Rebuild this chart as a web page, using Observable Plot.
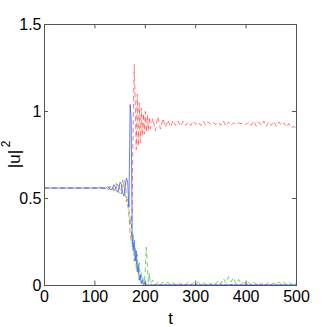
<!DOCTYPE html>
<html><head><meta charset="utf-8">
<script src="https://cdn.jsdelivr.net/npm/d3@7"></script>
<script src="https://cdn.jsdelivr.net/npm/@observablehq/plot@0.6"></script>
<style>html,body{margin:0;padding:0;background:#fff;}</style>
</head><body><div id="chart"></div>
<script>
const tValues = [
  0,10,20,30,40,50,60,70,80,90,100,110,120,
  122.5,125,127.5,130,132.5,135,137.5,140,142.5,145,147.5,150,152.5,155,157.5,160,162.5,165,167.5,
  170,172,174,176,178,180,182,184,186,188,190,192,194,196,198,200,202,204,206,208,210,
  215,220,225,230,235,240,245,250,255,260,
  265,270,275,280,285,290,295,300,305,310,
  315,320,325,330,335,340,345,350,355,360,
  365,370,375,380,385,390,395,400,405,410,
  415,420,425,430,435,440,445,450,455,460,
  465,470,475,480,485,490,495,500
];
const redValues = [
  0.56,0.56,0.56,0.56,0.56,0.56,0.56,0.56,0.56,0.56,0.561,0.559,0.562,
  0.565,0.555,0.552,0.56,0.573,0.568,0.548,0.541,0.56,0.588,0.578,0.539,0.527,0.56,0.607,0.59,0.52,0.47,0.4,
  0.3,0.26,0.45,0.95,1.27,1.05,0.78,1.1,0.8,1.05,0.82,1.02,0.86,0.99,0.87,1.0,0.88,0.98,0.89,0.97,0.9,
  0.96,0.89,0.97,0.9,0.96,0.91,0.95,0.91,0.95,0.92,
  0.945,0.915,0.945,0.92,0.94,0.92,0.945,0.925,0.94,0.92,
  0.945,0.92,0.94,0.925,0.935,0.925,0.94,0.92,0.945,0.915,
  0.94,0.92,0.935,0.925,0.935,0.93,0.935,0.925,0.94,0.92,
  0.945,0.915,0.94,0.92,0.945,0.915,0.94,0.92,0.945,0.915,
  0.94,0.92,0.935,0.91,0.93,0.905,0.915,0.9
];
const greenValues = [
  0.56,0.56,0.56,0.56,0.56,0.56,0.56,0.56,0.56,0.56,0.56,0.561,0.558,
  0.555,0.552,0.56,0.571,0.567,0.55,0.545,0.56,0.587,0.577,0.54,0.527,0.56,0.607,0.59,0.52,0.48,0.5,0.45,
  0.35,0.4,0.22,0.3,0.14,0.22,0.1,0.18,0.06,0.13,0.03,0.08,0.02,0.05,0.01,0.1,0.22,0.12,0.02,0.07,0.01,
  0.03,0.005,0.02,0.004,0.018,0.006,0.02,0.005,0.015,0.004,
  0.018,0.006,0.015,0.005,0.02,0.004,0.016,0.006,0.02,0.005,
  0.015,0.004,0.018,0.006,0.02,0.01,0.03,0.01,0.04,0.015,
  0.05,0.02,0.045,0.01,0.035,0.008,0.02,0.005,0.018,0.004,
  0.02,0.006,0.015,0.005,0.018,0.004,0.02,0.006,0.015,0.005,
  0.02,0.004,0.018,0.006,0.02,0.005,0.015,0.01
];
const blueValues = [
  0.56,0.56,0.56,0.56,0.56,0.56,0.56,0.56,0.56,0.56,0.56,0.562,0.558,
  0.56,0.568,0.565,0.553,0.549,0.56,0.579,0.572,0.545,0.536,0.56,0.593,0.58,0.533,0.515,0.56,0.617,0.595,0.45,
  1.04,0.95,0.28,0.2,0.26,0.14,0.2,0.08,0.12,0.03,0.06,0.01,0.03,0.005,0.015,0.004,0.01,0.003,0.008,0.003,0.006,
  0.003,0.006,0.003,0.006,0.003,0.006,0.003,0.006,0.003,0.006,
  0.003,0.006,0.003,0.006,0.003,0.006,0.003,0.006,0.003,0.006,
  0.003,0.006,0.003,0.006,0.003,0.006,0.003,0.006,0.003,0.006,
  0.003,0.006,0.003,0.006,0.003,0.006,0.003,0.006,0.003,0.006,
  0.003,0.006,0.003,0.006,0.003,0.006,0.003,0.006,0.003,0.006,
  0.003,0.006,0.003,0.006,0.003,0.006,0.003,0.005
];
const xTicks = [0,100,200,300,400,500];
const yTicks = [0,0.5,1,1.5];
const xLabel = "t";
const yLabelBase = "|u|";
const yLabelSup = "2";

const rows = tValues.map((t,i)=>({t, red: redValues[i], green: greenValues[i], blue: blueValues[i]}));
const font = "'Liberation Sans Narrow','Liberation Sans',Arial,sans-serif";
const axisColor = "#555";

const chart = Plot.plot({
  width: 327, height: 327,
  marginLeft: 44, marginRight: 31, marginTop: 24, marginBottom: 42,
  style: {fontFamily: font, fontSize: "16px", color: "#000", background: "#fff"},
  x: {domain: [0,500]},
  y: {domain: [0,1.5]},
  marks: [
    Plot.lineY(rows, {x: "t", y: "red", stroke: "#ff4040", strokeWidth: 0.7, strokeDasharray: "4,4"}),
    Plot.lineY(rows, {x: "t", y: "green", stroke: "#40b840", strokeWidth: 0.7, strokeDasharray: "4,4"}),
    Plot.lineY(rows, {x: "t", y: "blue", stroke: "#4060ff", strokeWidth: 0.8}),
    Plot.frame({stroke: axisColor, strokeWidth: 1}),
    Plot.ruleX(xTicks, {x: d=>d, y1: 0, y2: 0.025, stroke: axisColor}),
    Plot.ruleX(xTicks, {x: d=>d, y1: 1.5, y2: 1.475, stroke: axisColor}),
    Plot.ruleY(yTicks, {y: d=>d, x1: 0, x2: 8, stroke: axisColor}),
    Plot.ruleY(yTicks, {y: d=>d, x1: 500, x2: 492, stroke: axisColor}),
    Plot.axisX(xTicks, {tickSize: 0, tickPadding: 5, label: null, tickFormat: d=>String(d), fontSize: 16}),
    Plot.axisY(yTicks, {tickSize: 0, tickPadding: 3, label: null, tickFormat: d=>String(d), fontSize: 16}),
    Plot.text([xLabel], {frameAnchor: "bottom", dy: 38, lineAnchor: "bottom", fontSize: 17}),
    Plot.text([yLabelBase], {frameAnchor: "left", dx: -30, dy: 4, rotate: -90, textAnchor: "middle", fontSize: 17}),
    Plot.text([yLabelSup], {frameAnchor: "left", dx: -38, dy: -11, rotate: -90, textAnchor: "middle", fontSize: 12})
  ]
});
document.getElementById("chart").appendChild(chart);
</script>
</body></html>
